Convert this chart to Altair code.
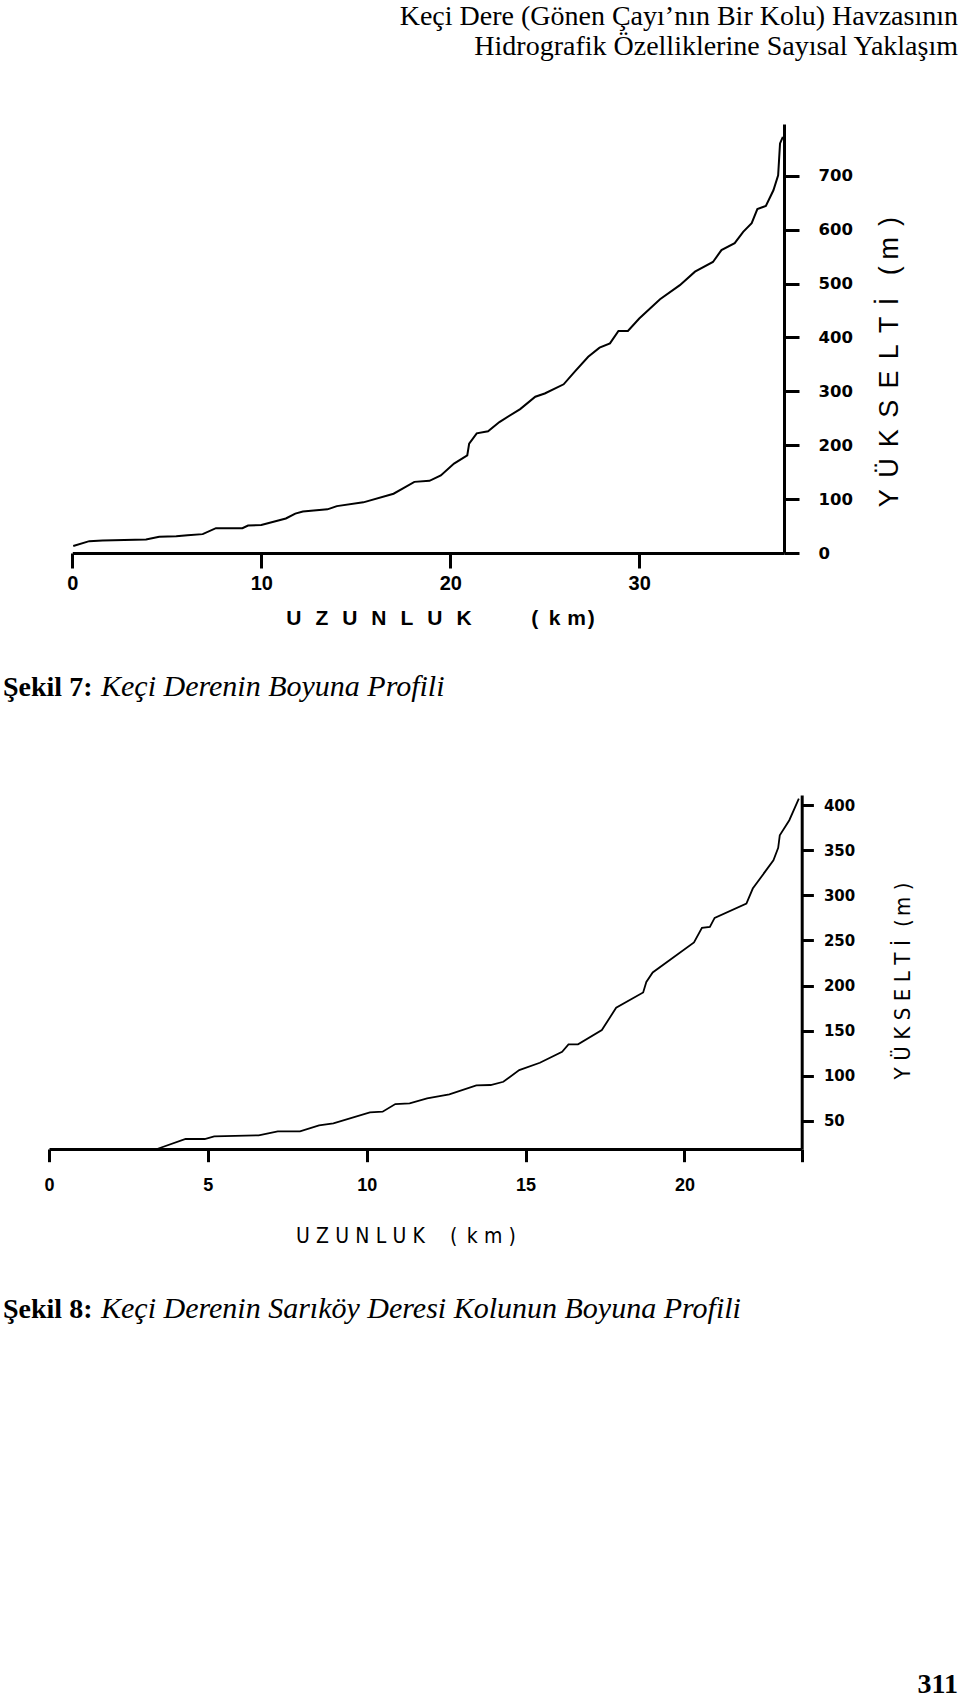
import altair as alt
import pandas as pd

# ---------------- text content ----------------
header_line1 = "Keçi Dere (Gönen Çayı’nın Bir Kolu) Havzasının"
header_line2 = "Hidrografik Özelliklerine Sayısal Yaklaşım"
caption1_bold = "Şekil 7:"
caption1_italic = "Keçi Derenin Boyuna Profili"
caption2_bold = "Şekil 8:"
caption2_italic = "Keçi Derenin Sarıköy Deresi Kolunun Boyuna Profili"
page_number = "311"

# axis titles (wide letter spacing reproduced with unicode spaces)
E, EM, P3, P4, P6, HS = "\u2002", "\u2003", "\u2004", "\u2005", "\u2006", "\u200a"
x_title1 = (E + P6).join("UZUNLUK") + EM + EM + E + P3 + "(" + E + "k" + P3 + "m" + HS + ")"
y_title1 = (P4 + P6).join("YÜKSELTİ") + E + P3 + "(" + P4 + "m" + P4 + P6 + ")"
x_title2 = P3.join("UZUNLUK") + EM + P3 + "(" + E + "k" + P3 + "m" + P3 + ")"
y_title2 = P3.join("YÜKSELTİ") + E + P6 + "(" + P6 + "m" + P3 + ")"

# ---------------- Şekil 7 data (km, m) ----------------
km1 = [0.05, 0.9, 1.6, 3.9, 4.6, 5.5, 6.1, 6.9, 7.6, 9.0, 9.3, 10.0, 11.3, 11.8, 12.2,
       13.5, 14.0, 15.4, 17.0, 17.5, 18.1, 18.9, 19.5, 20.2, 20.9, 21.0, 21.4, 22.0,
       22.6, 23.7, 24.5, 25.0, 26.0, 26.6, 27.3, 27.9, 28.45, 28.9, 29.4, 30.0, 31.1,
       32.15, 32.95, 33.9, 34.35, 35.05, 35.5, 35.95, 36.25, 36.7, 37.1, 37.35, 37.45, 37.6]
elev1 = [13, 22, 23, 25, 30, 31, 33, 35, 46, 46, 51, 52, 64, 73, 77,
         81, 87, 94, 110, 120, 132, 134, 144, 166, 181, 203, 222, 226,
         243, 267, 290, 296, 313, 337, 364, 381, 389, 412, 412, 435, 471,
         497, 522, 540, 562, 575, 596, 612, 638, 644, 673, 701, 760, 772]
x1_ticks = [0, 10, 20, 30]
y1_ticks = [0, 100, 200, 300, 400, 500, 600, 700]

# ---------------- Şekil 8 data (km, m) ----------------
km2 = [3.4, 4.3, 4.9, 5.2, 6.6, 7.2, 7.9, 8.5, 8.95, 10.1, 10.5, 10.9, 11.35, 11.9, 12.6,
       13.45, 13.9, 14.3, 14.8, 15.45, 16.15, 16.35, 16.65, 17.4, 17.85, 18.7, 18.8, 19.0,
       20.3, 20.55, 20.8, 20.95, 21.95, 22.15, 22.8, 22.95, 23.0, 23.3, 23.6]
elev2 = [18.6, 29.7, 29.7, 32.7, 33.8, 38.2, 38.2, 44.9, 47.1, 59.3, 60, 68.5, 69.3, 74.8, 79.3,
         89.2, 89.6, 93.2, 106.2, 114.3, 126.5, 134.7, 134.7, 150.6, 175.3, 192.3, 204, 214.5,
         247.8, 264, 265, 275, 291, 307.6, 339, 352.7, 366.7, 383.4, 407.4]
x2_max = 23.69
x2_ticks = [0, 5, 10, 15, 20, x2_max]   # last one: unlabelled end tick
y2_ticks = [50, 100, 150, 200, 250, 300, 350, 400]

W, H = 960, 1699
SANS = "Liberation Sans, Arial, sans-serif"
NARROW = "Liberation Sans Narrow, Arial Narrow, DejaVu Sans Condensed, sans-serif"
SERIF = "Liberation Serif, Times New Roman, serif"
LABELS = "DejaVu Sans, sans-serif"


def txt(s, x, y, size, font, weight="normal", style="normal", align="left",
        angle=0, baseline="alphabetic"):
    return alt.Chart(pd.DataFrame({"t": [s]})).mark_text(
        font=font, fontSize=size, fontWeight=weight, fontStyle=style,
        align=align, baseline=baseline, angle=angle, color="black"
    ).encode(x=alt.value(x), y=alt.value(y), text="t:N")


def axis(orient, offset, values, font, size, tick, pad, width=3, label_expr=None):
    kw = dict(
        orient=orient, offset=offset, values=values, title=None, grid=False,
        format="d", domainColor="black", domainWidth=width, tickColor="black",
        tickWidth=width, tickSize=tick, labelColor="black", labelFont=font,
        labelFontSize=size, labelFontWeight="bold", labelPadding=pad,
        labelFlush=False, labelOverlap=False,
    )
    if label_expr:
        kw["labelExpr"] = label_expr
    return alt.Axis(**kw)


df1 = pd.DataFrame({"km": km1, "elev": elev1, "i": range(len(km1))})
line1 = alt.Chart(df1).mark_line(color="black", strokeWidth=2).encode(
    x=alt.X("km:Q",
            scale=alt.Scale(domain=[0, 37.66], range=[72.3, 784], nice=False, zero=False),
            axis=axis("bottom", 553 - H, x1_ticks, SANS, 20, 15, 5)),
    y=alt.Y("elev:Q",
            scale=alt.Scale(domain=[0, 796], range=[553, 124], nice=False, zero=False),
            axis=axis("right", 784 - W, y1_ticks, LABELS, 16.5, 15, 19)),
    order="i:Q",
)

df2 = pd.DataFrame({"km": km2, "elev": elev2, "i": range(len(km2))})
line2 = alt.Chart(df2).mark_line(color="black", strokeWidth=1.8).encode(
    x=alt.X("km:Q",
            scale=alt.Scale(domain=[0, x2_max], range=[49, 801.7], nice=False, zero=False),
            axis=axis("bottom", 1149 - H, x2_ticks, SANS, 18, 12.7, 15,
                      label_expr="datum.value > 23 ? '' : datum.label")),
    y=alt.Y("elev:Q",
            scale=alt.Scale(domain=[18.6, 411.4], range=[1149, 795], nice=False, zero=False),
            axis=axis("right", 801.7 - W, y2_ticks, LABELS, 15, 11.7, 10)),
    order="i:Q",
)

texts = [
    txt(header_line1, 958, 24.5, 28, SERIF, align="right"),
    txt(header_line2, 958, 54.5, 28, SERIF, align="right"),
    txt(x_title1, 440.5, 624.5, 21, SANS, weight="bold", align="center"),
    txt(y_title1, 890, 362, 27, SANS, align="center", angle=270, baseline="middle"),
    txt(caption1_bold, 3, 696, 28, SERIF, weight="bold"),
    txt(caption1_italic, 101, 696, 30, SERIF, style="italic"),
    txt(x_title2, 406, 1243, 21, NARROW, align="center"),
    txt(y_title2, 903, 981, 22, NARROW, align="center", angle=270, baseline="middle"),
    txt(caption2_bold, 3, 1318, 28, SERIF, weight="bold"),
    txt(caption2_italic, 101, 1318, 30, SERIF, style="italic"),
    txt(page_number, 958, 1693, 28, SERIF, weight="bold", align="right"),
]

chart = alt.layer(line1, line2, *texts).resolve_scale(
    x="independent", y="independent"
).properties(
    width=W, height=H, autosize=alt.AutoSizeParams(type="none"), padding=0,
    background="white",
).configure_view(stroke=None)

chart.save("out.html", embed_options={"renderer": "svg", "actions": False})
